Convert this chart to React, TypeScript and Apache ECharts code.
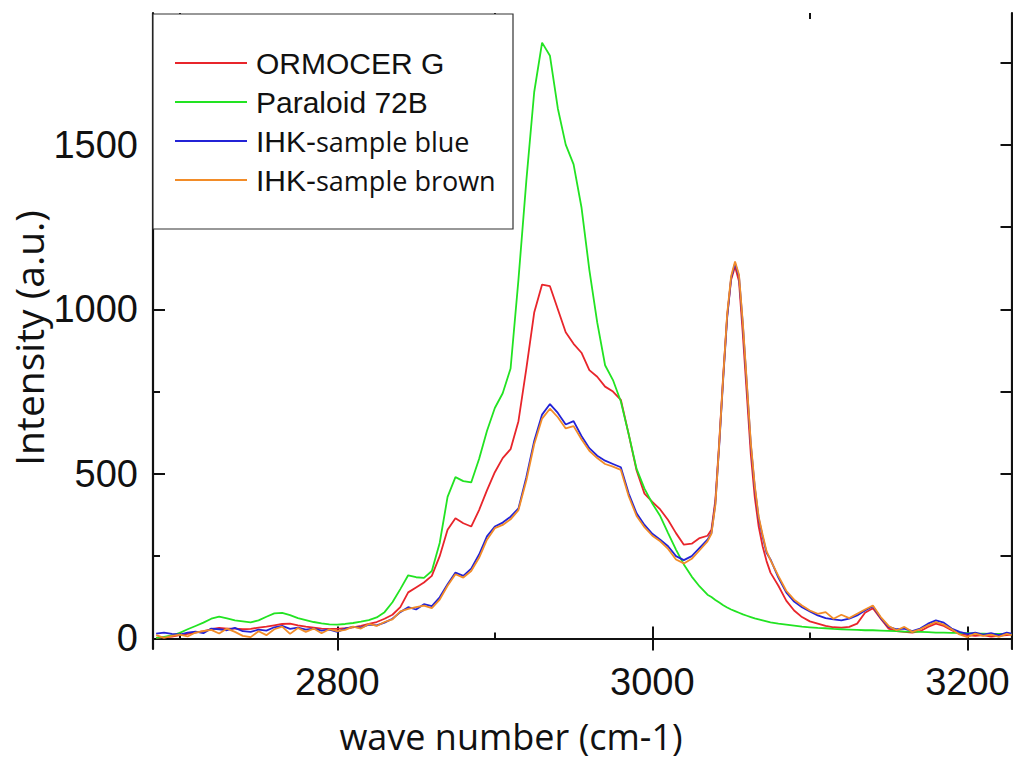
import React, { useEffect, useRef } from "react";
import * as echarts from "echarts";

const waveNumbers = [
  2685, 2690, 2695, 2700, 2705, 2710, 2715, 2720, 2725, 2730, 2735, 2740, 2745, 2750, 2755, 2760, 2765, 2770, 2775, 2780, 2785, 2790, 2795, 2800,
  2805, 2810, 2815, 2820, 2825, 2830, 2835, 2840, 2845, 2850, 2855, 2860, 2865, 2870, 2875, 2880, 2885, 2890, 2895, 2900,
  2905, 2910, 2915, 2920, 2925, 2930, 2935, 2940, 2945, 2950, 2955, 2960, 2965, 2970, 2975, 2980, 2985, 2990, 2995, 3000,
  3005, 3010, 3015, 3020, 3025, 3030, 3035,
  3037.5, 3040, 3042.5, 3045, 3047.5, 3050, 3052.5, 3055, 3057.5, 3060, 3062.5, 3065, 3067.5, 3070, 3072.5, 3075,
  3080, 3085, 3090, 3095, 3100, 3105, 3110, 3115, 3120, 3125, 3130, 3135, 3140, 3145, 3150, 3155, 3160, 3165, 3170, 3175, 3180, 3185, 3190, 3195, 3200, 3205, 3210, 3215, 3220, 3225, 3228,
];

const ormocerG = [
  2, 4, 6, 10, 14, 18, 22, 28, 32, 30, 30, 28, 29, 33, 36, 40, 44, 45, 40, 36, 33, 30, 29, 29,
  31, 34, 38, 44, 50, 60, 72, 95, 140, 155, 170, 190, 250, 330, 365, 350, 340, 390, 450, 505,
  548, 575, 660, 820, 990, 1075, 1070, 1000, 930, 895, 868, 815, 795, 765, 750, 725, 620, 510, 440, 415,
  392, 360, 320, 285, 288, 305, 312,
  330, 420, 600, 800, 980, 1090, 1130, 1085, 920, 740, 560, 430, 340, 280, 235, 200,
  160, 115, 85, 65, 52, 45, 38, 34, 33, 35, 45, 78, 92, 60, 30, 22, 20, 18, 22, 35, 45, 38, 25, 14, 10, 8, 10, 6, 8, 10, 12,
];

const paraloid72B = [
  2, 5, 9, 17, 28, 38, 48, 60, 66, 61, 55, 52, 49, 55, 66, 76, 78, 71, 62, 56, 50, 46, 43, 42,
  44, 47, 51, 56, 64, 80, 110, 150, 192, 186, 184, 205, 290, 430, 490, 478, 474, 545, 630, 700,
  745, 820, 1090, 1390, 1660, 1810, 1770, 1610, 1500, 1440, 1310, 1120, 960, 830, 785, 720, 620, 515, 455, 410,
  372, 320, 270, 225, 188, 158, 133,
  126, 117, 109, 101, 94, 88, 83, 78, 73, 69, 65, 61, 58, 55, 52, 49,
  45, 42, 39, 36, 34, 32, 31, 29, 28, 27, 26, 25, 25, 24, 23, 22, 21, 21, 20, 19, 18, 18, 17, 17, 16, 15, 15, 14, 14, 13, 13,
];

const ihkBlue = [
  15, 18, 14, 12, 18, 21, 16, 30, 28, 25, 32, 22, 20, 27, 24, 34, 38, 29, 33, 27, 30, 24, 27, 20,
  30, 35, 33, 42, 40, 48, 60, 80, 95, 88, 104, 98, 125, 165, 200, 190, 212, 255, 310, 340,
  352, 370, 395, 490, 600, 680, 712, 685, 650, 660, 615, 578, 555, 540, 530, 520, 440, 380, 345, 318,
  300, 280, 250, 238, 250, 275, 300,
  320, 410, 590, 790, 975, 1095, 1140, 1100, 950, 770, 590, 460, 365, 310, 260, 240,
  185, 140, 112, 95, 82, 70, 62, 58, 55, 60, 70, 85, 98, 62, 35, 28, 30, 22, 30, 45, 55, 48, 30, 20, 14, 18, 12, 16, 10, 18, 15,
];

const ihkBrown = [
  10, 2, 8, 12, 6, 18, 22, 26, 15, 30, 20, 8, 4, 22, 10, 28, 36, 14, 32, 20, 30, 16, 28, 22,
  26, 36, 30, 44, 38, 50, 58, 82, 90, 95, 100, 92, 118, 160, 195, 185, 205, 245, 300, 335,
  345, 362, 390, 480, 590, 668, 698, 672, 638, 645, 605, 570, 548, 530, 522, 512, 432, 372, 338, 312,
  295, 272, 240, 228, 242, 268, 295,
  318, 405, 595, 795, 985, 1100, 1145, 1105, 955, 775, 595, 465, 370, 315, 265, 238,
  190, 145, 118, 100, 85, 75, 80, 60, 72, 62, 75, 88, 100, 65, 38, 25, 35, 20, 28, 40, 50, 42, 28, 12, 4, 15, 8, 12, 5, 14, 10,
];

const seriesNames = ["ORMOCER G", "Paraloid 72B", "IHK-sample blue", "IHK-sample brown"];
const seriesColors = ["#e8252b", "#22e322", "#2323d6", "#f28c28"];
const seriesValues = [ormocerG, paraloid72B, ihkBlue, ihkBrown];

const xMajorTicks = [2800, 3000, 3200];
const xMinorTicks = [2700, 2900, 3100];
const yMajorTicks = [0, 500, 1000, 1500];
const yMinorTicks = [250, 750, 1250, 1750];
const yRightTicks = [250, 500, 750, 1000, 1250, 1500, 1750];

const X_MIN = 2683;
const X_MAX = 3228;
const Y_MIN = -32;
const Y_MAX = 1900;

const ARIAL = '"Liberation Sans", Arial, sans-serif';
const SANS = '"Open Sans", "Noto Sans", sans-serif';

export default function App() {
  const ref = useRef<HTMLDivElement>(null);

  useEffect(() => {
    if (!ref.current) return;
    const chart = echarts.init(ref.current, undefined, { renderer: "svg" });
    const line = { show: true, lineStyle: { color: "#111", width: 2.2 } };
    const noLine = { show: false };
    const plain = (v: number) => String(v);

    const xBase = (position: string, ticks: number[], len: number, showLine: boolean, labels: boolean) => ({
      type: "value",
      position,
      min: X_MIN,
      max: X_MAX,
      axisLine: showLine ? line : noLine,
      axisTick: { show: true, inside: true, length: len, customValues: ticks, lineStyle: { color: "#111", width: 2 } },
      axisLabel: labels
        ? { show: true, customValues: ticks, formatter: plain, margin: 14, fontSize: 38, color: "#111", fontFamily: ARIAL }
        : { show: false },
      splitLine: { show: false },
    });
    const yBase = (position: string, ticks: number[], len: number, showLine: boolean, labels: boolean) => ({
      type: "value",
      position,
      min: Y_MIN,
      max: Y_MAX,
      axisLine: showLine ? line : noLine,
      axisTick: { show: true, inside: true, length: len, customValues: ticks, lineStyle: { color: "#111", width: 2 } },
      axisLabel: labels
        ? { show: true, customValues: ticks, formatter: plain, margin: 15, fontSize: 38, color: "#111", fontFamily: ARIAL }
        : { show: false },
      splitLine: { show: false },
    });

    chart.setOption({
      animation: false,
      backgroundColor: "#ffffff",
      grid: { left: 153, right: 1.5, top: 13, bottom: 111, containLabel: false },
      xAxis: [
        xBase("bottom", xMajorTicks, 12, true, true),
        xBase("bottom", xMinorTicks, 6, false, false),
        xBase("top", xMajorTicks, 12, true, false),
        xBase("top", xMinorTicks, 6, false, false),
      ],
      yAxis: [
        yBase("left", yMajorTicks, 12, true, true),
        yBase("left", yMinorTicks, 7, false, false),
        yBase("right", yRightTicks, 11, true, false),
      ],
      legend: {
        orient: "vertical",
        left: 175,
        top: 47,
        padding: 0,
        itemGap: 7,
        itemWidth: 72,
        itemHeight: 2,
        icon: "rect",
        z: 10,
        data: seriesNames,
        formatter: (name: string) =>
          name.startsWith("IHK-") ? `{a|IHK-}{b|${name.slice(4)}}` : `{a|${name}}`,
        textStyle: {
          color: "#111",
          lineHeight: 32,
          rich: {
            a: { fontFamily: ARIAL, fontSize: 30, lineHeight: 32, color: "#111", padding: [0, 0, 0, 4] },
            b: { fontFamily: SANS, fontSize: 27, lineHeight: 32, color: "#111" },
          },
        },
      },
      graphic: [
        {
          type: "rect",
          z: 8,
          shape: { x: 153, y: 14, width: 360, height: 215 },
          style: { fill: "#ffffff", stroke: "#333", lineWidth: 1.2 },
        },
        {
          type: "text",
          z: 10,
          x: 511,
          y: 736,
          style: {
            text: "wave number (cm-1)",
            font: `36px ${SANS}`,
            fill: "#111",
            textAlign: "center",
            textVerticalAlign: "middle",
          },
        },
        {
          type: "text",
          z: 10,
          x: 28,
          y: 338,
          rotation: Math.PI / 2,
          style: {
            text: "Intensity (a.u.)",
            font: `39px ${SANS}`,
            fill: "#111",
            textAlign: "center",
            textVerticalAlign: "middle",
          },
        },
      ],
      series: seriesNames.map((name, i) => ({
        name,
        type: "line",
        xAxisIndex: 0,
        yAxisIndex: 0,
        showSymbol: false,
        symbol: "none",
        z: 2,
        color: seriesColors[i],
        lineStyle: { color: seriesColors[i], width: 1.8 },
        data: waveNumbers.map((x, j) => [x, seriesValues[i][j]]),
      })),
    });
    return () => chart.dispose();
  }, []);

  return (
    <div
      ref={ref}
      style={{ position: "fixed", left: 0, top: 0, width: 1013, height: 760, background: "#fff" }}
    />
  );
}
